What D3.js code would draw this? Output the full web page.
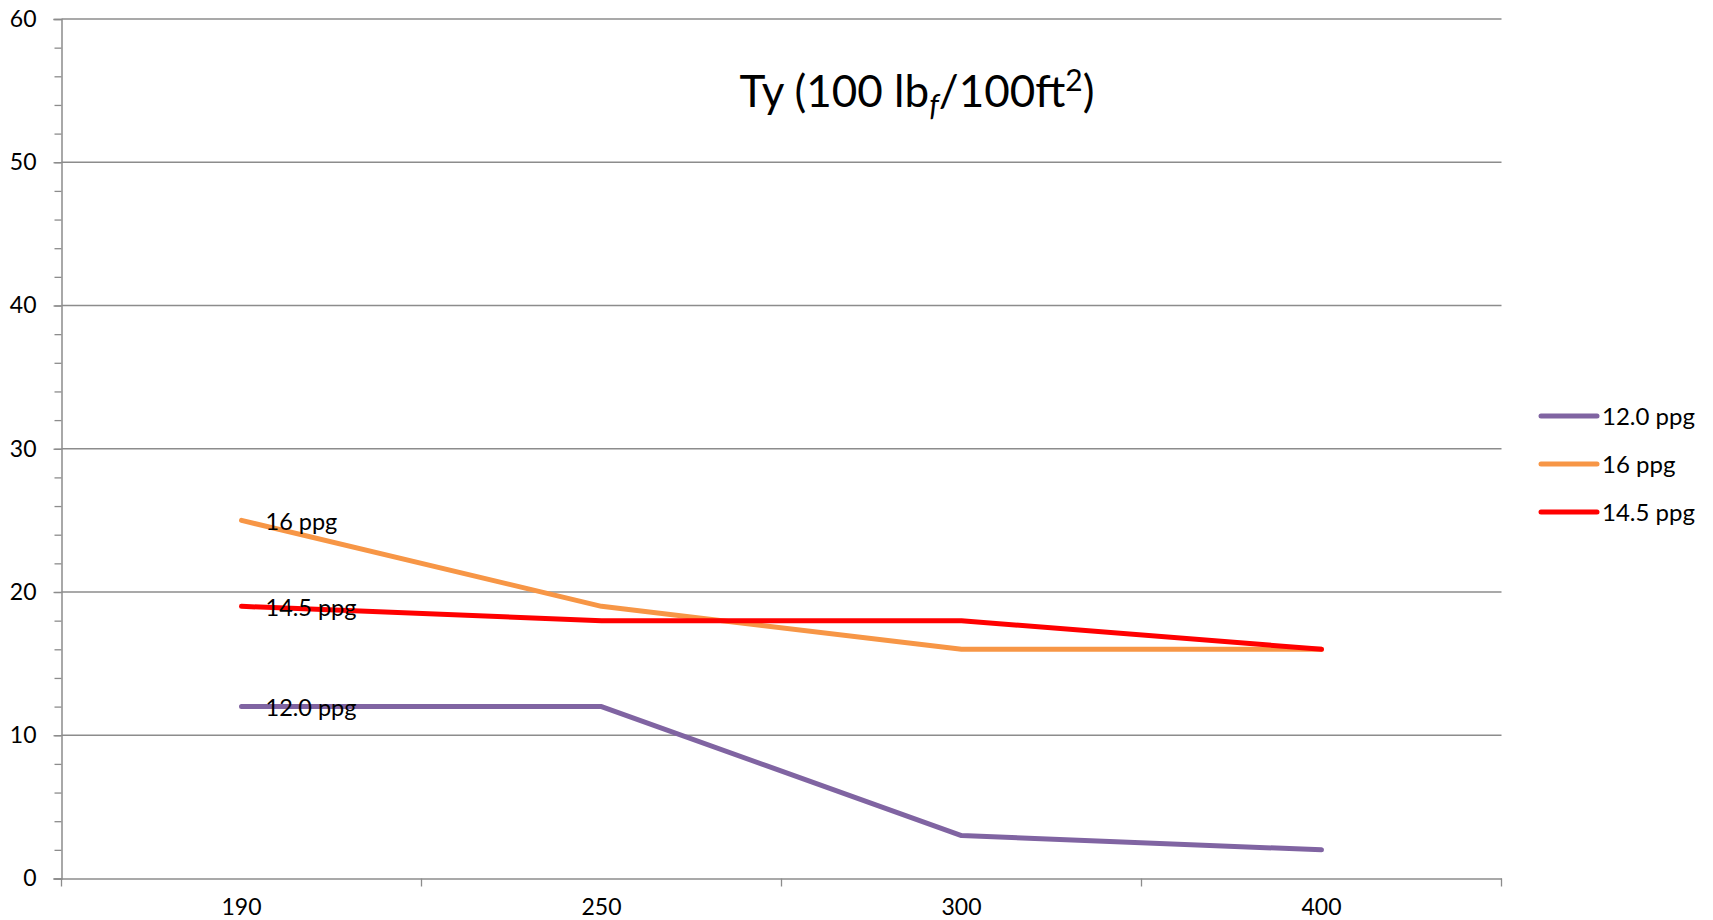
<!DOCTYPE html>
<html>
<head>
<meta charset="utf-8">
<script src="https://cdn.jsdelivr.net/npm/d3@7"></script>
<style>
  html, body { margin: 0; padding: 0; background: #fff; }
  svg { display: block; font-family: Lato, "Open Sans", sans-serif; }
</style>
</head>
<body>
<svg id="chart" width="1713" height="920"></svg>
<script>
// Temperature categories along the x axis
const categories = ["190", "250", "300", "400"];

// Yield point per mud weight
const series12 = [12, 12, 3, 2];
const series16 = [25, 19, 16, 16];
const series145 = [19, 18, 18, 16];

const seriesNames = ["12.0 ppg", "16 ppg", "14.5 ppg"];
const seriesColors = ["#8064A2", "#F79646", "#FF0000"];
const yTicks = [0, 10, 20, 30, 40, 50, 60];

const allSeries = [series12, series16, series145].map((values, i) => ({
  name: seriesNames[i],
  color: seriesColors[i],
  values
}));

const svg = d3.select("#chart");
const plot = { left: 61.5, right: 1501.5, top: 19, bottom: 878.5 };
const gridColor = "#8c8c8c";

const x = d3.scaleBand().domain(categories).range([plot.left, plot.right]).padding(0);
const y = d3.scaleLinear().domain([0, 60]).range([plot.bottom, plot.top]);
const cx = c => x(c) + x.bandwidth() / 2;

// Horizontal gridlines
svg.append("g")
  .selectAll("line")
  .data(yTicks.filter(t => t > 0))
  .join("line")
  .attr("x1", plot.left).attr("x2", plot.right)
  .attr("y1", d => y(d)).attr("y2", d => y(d))
  .attr("stroke", gridColor).attr("stroke-width", 1.3);

// Minor ticks on the value axis
const minorAxis = d3.axisLeft(y).tickValues(d3.range(0, 61, 2)).tickSize(7).tickFormat("");
svg.append("g").attr("transform", `translate(${plot.left},0)`).call(minorAxis)
  .call(g => g.select(".domain").remove())
  .call(g => g.selectAll("line").attr("stroke", gridColor).attr("stroke-width", 1.3));

// Value axis
const yAxis = d3.axisLeft(y).tickValues(yTicks).tickSize(8).tickPadding(17);
svg.append("g").attr("transform", `translate(${plot.left},0)`).call(yAxis)
  .call(g => g.select(".domain").attr("stroke", gridColor).attr("stroke-width", 1.5))
  .call(g => g.selectAll("line").attr("stroke", gridColor).attr("stroke-width", 1.3))
  .call(g => g.selectAll("text").attr("font-size", 23).attr("fill", "#000")
    .attr("font-family", "Lato, sans-serif"));

// Category axis: labels centred in each band
const xAxis = d3.axisBottom(x).tickSize(0).tickPadding(0);
svg.append("g").attr("transform", `translate(0,${plot.bottom})`).call(xAxis)
  .call(g => g.select(".domain").attr("stroke", gridColor).attr("stroke-width", 1.5))
  .call(g => g.selectAll("text").attr("font-size", 23).attr("fill", "#000")
    .attr("font-family", "Lato, sans-serif").attr("y", 28).attr("dy", "0.35em"));

// Tick marks at band boundaries
const boundaries = categories.map(c => x(c)).concat([x.range()[1]]);
svg.append("g")
  .selectAll("line")
  .data(boundaries)
  .join("line")
  .attr("x1", d => d).attr("x2", d => d)
  .attr("y1", plot.bottom).attr("y2", plot.bottom + 8)
  .attr("stroke", gridColor).attr("stroke-width", 1.3);

// Series lines
const line = d3.line().x((d, i) => cx(categories[i])).y(d => y(d));
svg.append("g")
  .selectAll("path")
  .data(allSeries)
  .join("path")
  .attr("d", s => line(s.values))
  .attr("fill", "none")
  .attr("stroke", s => s.color)
  .attr("stroke-width", 5)
  .attr("stroke-linecap", "round")
  .attr("stroke-linejoin", "round");

// Series name labels beside the first point
svg.append("g")
  .selectAll("text")
  .data(allSeries)
  .join("text")
  .attr("x", cx(categories[0]) + 24)
  .attr("y", s => y(s.values[0]))
  .attr("dy", "0.4em")
  .attr("font-size", 23.5)
  .attr("fill", "#000")
  .text(s => s.name);

// Legend
const legend = svg.append("g").attr("transform", "translate(1541,416)");
const rows = legend.selectAll("g").data(allSeries).join("g")
  .attr("transform", (d, i) => `translate(0,${i * 48})`);
rows.append("line")
  .attr("x1", 0).attr("x2", 56)
  .attr("stroke", d => d.color).attr("stroke-width", 5).attr("stroke-linecap", "round");
rows.append("text")
  .attr("x", 61).attr("dy", "0.36em")
  .attr("font-size", 24).attr("fill", "#000")
  .text(d => d.name);

// Title
const title = svg.append("text")
  .attr("x", 917).attr("y", 107)
  .attr("text-anchor", "middle")
  .attr("font-size", 44)
  .attr("fill", "#000");
title.append("tspan").text("Ty (100 lb");
title.append("tspan").attr("font-style", "italic").attr("font-size", 30).attr("dy", 9).text("f");
title.append("tspan").attr("dy", -9).text("/100ft");
title.append("tspan").attr("font-size", 30).attr("dy", -16).text("2");
title.append("tspan").attr("dy", 16).text(")");
</script>
</body>
</html>
